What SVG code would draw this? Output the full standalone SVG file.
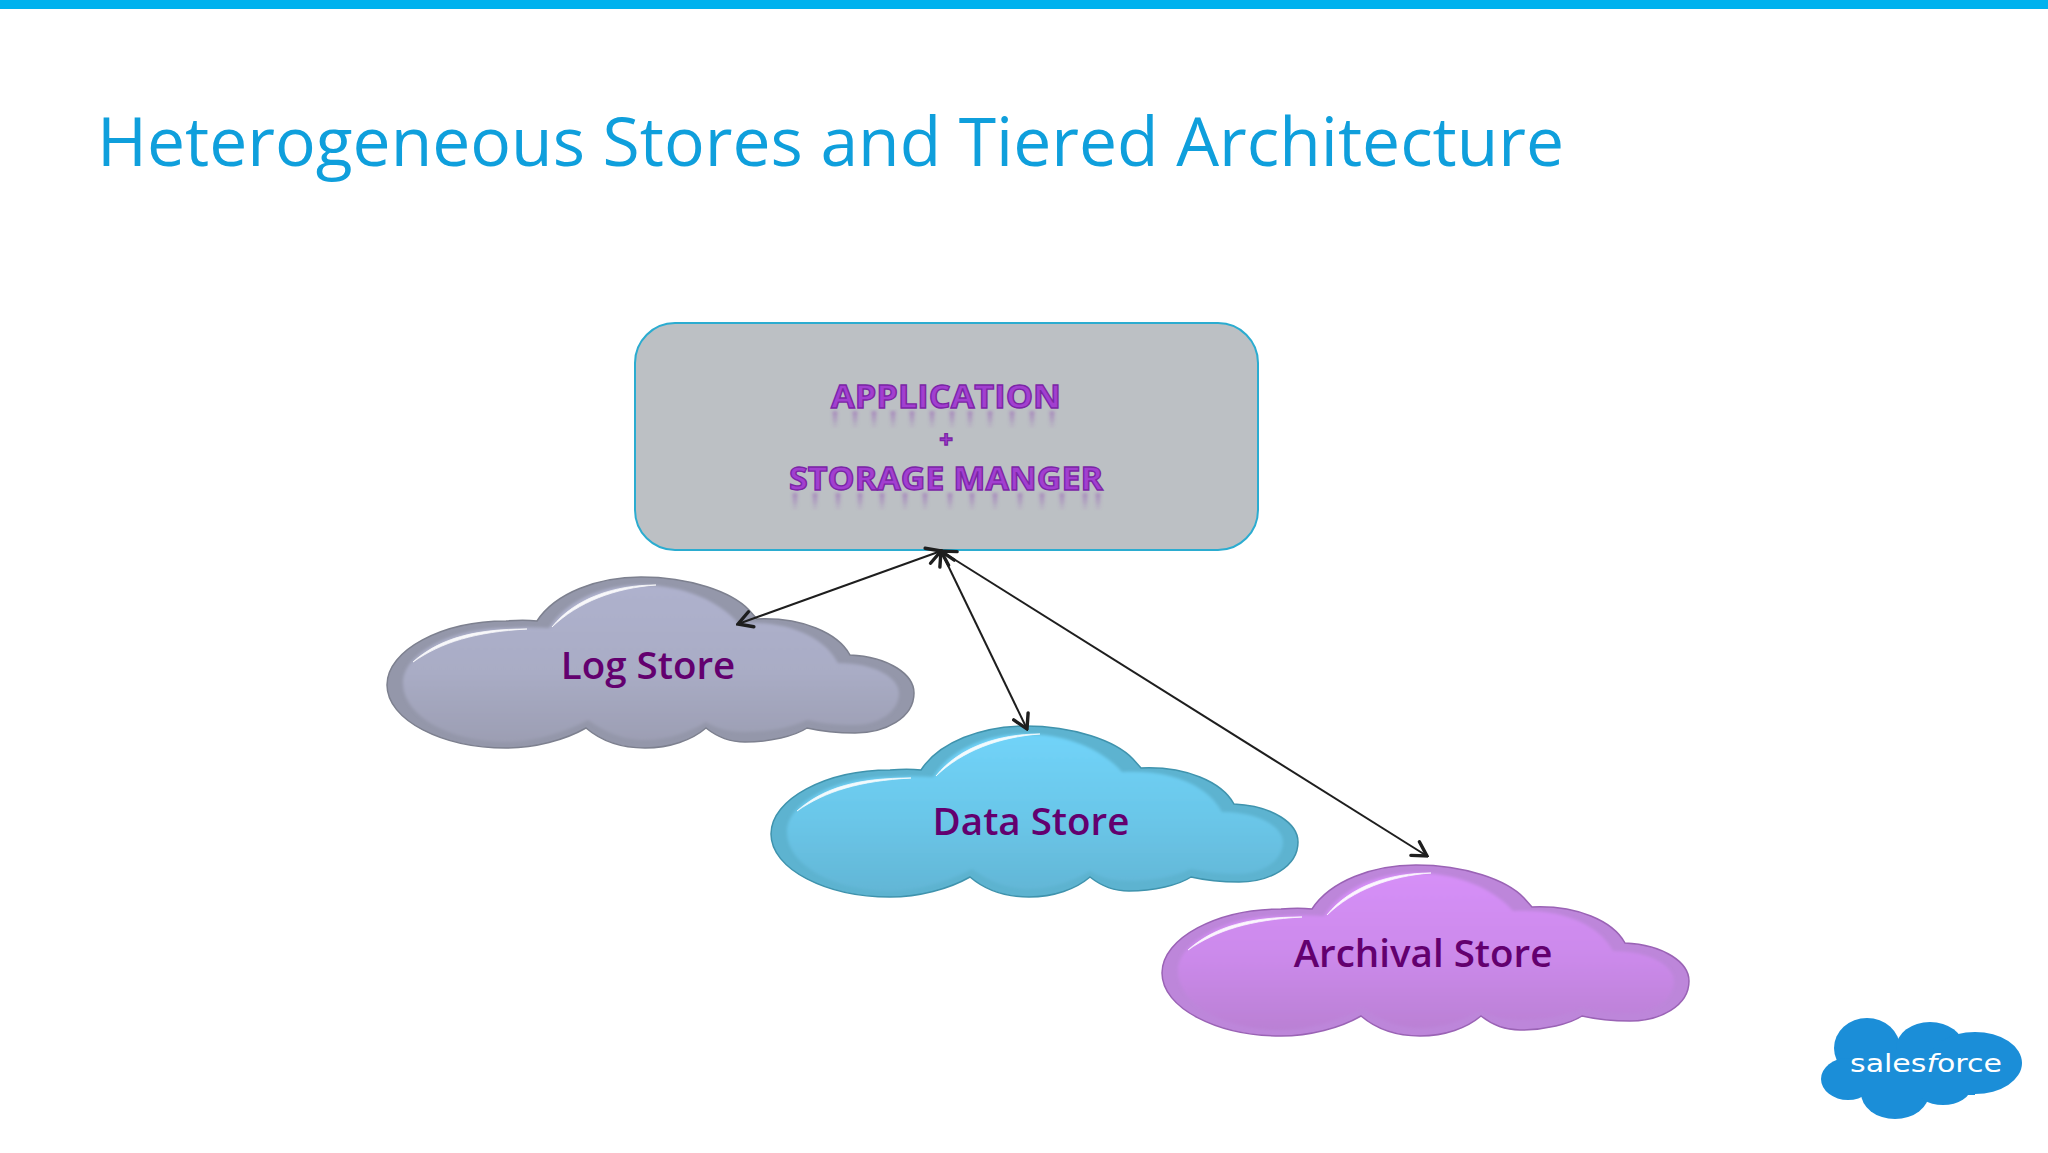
<svg xmlns="http://www.w3.org/2000/svg" width="2048" height="1153" viewBox="0 0 2048 1153">
<style>
.title{font-family:"Open Sans","Liberation Sans",sans-serif;font-size:67.8px;fill:#0f9fdc}
.app{font-family:"Open Sans","Liberation Sans",sans-serif;font-weight:700;font-size:32px;fill:#a23fd0;stroke:#7b25a6;stroke-width:1.3px;text-anchor:middle}
.plus{font-size:24px}
.refl{fill:none;stroke:url(#fade);stroke-width:5;filter:url(#soft)}
.lbl{font-family:"Open Sans","Liberation Sans",sans-serif;font-weight:600;font-size:38.5px;fill:#63006f;text-anchor:middle}
.hl{fill:#fff;opacity:.92}
.conn{fill:none;stroke:#1e1e1e;stroke-width:2;marker-start:url(#ah);marker-end:url(#ah)}
</style>
<defs>
<marker id="ah" viewBox="-16 -10 18 20" refX="0" refY="0" markerWidth="18" markerHeight="20" markerUnits="userSpaceOnUse" orient="auto-start-reverse">
<path d="M-14,-8 L0,0 L-14,8" fill="none" stroke="#1e1e1e" stroke-width="3.4" stroke-linecap="round"/>
</marker>
<linearGradient id="fade" gradientUnits="userSpaceOnUse" x1="0" y1="0" x2="0" y2="18"><stop offset="0" stop-color="#8a3fb0" stop-opacity=".42"/><stop offset="1" stop-color="#8a3fb0" stop-opacity="0"/></linearGradient>
<linearGradient id="gLog" x1="0" y1="0" x2="0" y2="1"><stop offset="0" stop-color="#aeb1cd"/><stop offset=".55" stop-color="#a9acc5"/><stop offset="1" stop-color="#9c9eb3"/></linearGradient>
<linearGradient id="gData" x1="0" y1="0" x2="0" y2="1"><stop offset="0" stop-color="#70d3f9"/><stop offset=".55" stop-color="#6ac6e8"/><stop offset="1" stop-color="#62b6d6"/></linearGradient>
<linearGradient id="gArc" x1="0" y1="0" x2="0" y2="1"><stop offset="0" stop-color="#d68ff8"/><stop offset=".55" stop-color="#cb89ea"/><stop offset="1" stop-color="#ba80d4"/></linearGradient>
<filter id="soft" x="-10%" y="-10%" width="120%" height="120%"><feGaussianBlur stdDeviation="1.8"/></filter>
<path id="outer" d="M17,125 C17,90 72,61 136,61 C148,60 158,60 167,61 C185,33 228,17 271,17 C320,17 362,32 379,50 L387,59 C432,57 468,73 480,95 C520,97 544,115 544,133 C544,158 515,173 485,173 C468,173 450,171 437,168 C425,176 400,182 375,182 C358,182 346,176 336,168 C322,180 300,188 275,188 C250,188 230,180 216,168 C195,180 165,188 136,188 C72,188 17,160 17,125 Z"/>
<path id="inner" d="M33,123 C33,95 78,68 136,68 C150,67 165,67 179,68 C195,42 230,25 271,25 C315,25 350,42 368,63 C420,60 455,78 468,103 C505,103 529,118 529,133 C529,152 508,165 485,165 C465,165 450,163 437,160 C420,168 398,172 375,172 C358,172 345,168 336,162 C320,172 298,180 275,180 C250,180 232,170 218,160 C195,172 165,182 136,182 C78,182 33,155 33,123 Z"/>
<path id="hi" d="M43,102 C70,78 105,69 157,69 C105,72 72,82 43,102 Z M182,67 C205,38 245,25 286,25 C245,28 208,42 182,67 Z" stroke="#fff" stroke-width=".8"/>
</defs>
<rect width="2048" height="1153" fill="#fff"/>
<rect id="topbar" width="2048" height="9" fill="#00b2ee"/>
<text id="title" class="title" x="97" y="166">Heterogeneous Stores and Tiered Architecture</text>

<g id="log-store" transform="translate(370,560)">
<use href="#outer" fill="#9497aa" stroke="#7d808f" stroke-width="1.5"/>
<use href="#inner" fill="url(#gLog)" filter="url(#soft)"/>
<use href="#hi" class="hl"/>
<text class="lbl" x="278" y="119">Log Store</text>
</g>
<g id="data-store" transform="translate(754,709)">
<use href="#outer" fill="#5db3d0" stroke="#3f93ad" stroke-width="1.5"/>
<use href="#inner" fill="url(#gData)" filter="url(#soft)"/>
<use href="#hi" class="hl"/>
<text class="lbl" x="277" y="126">Data Store</text>
</g>
<g id="archival-store" transform="translate(1145,848)">
<use href="#outer" fill="#bd86da" stroke="#9a63b5" stroke-width="1.5"/>
<use href="#inner" fill="url(#gArc)" filter="url(#soft)"/>
<use href="#hi" class="hl"/>
<text class="lbl" x="278" y="119">Archival Store</text>
</g>

<g id="application">
<rect x="635" y="323" width="623" height="227" rx="40" fill="#bcc0c4" stroke="#2bacd0" stroke-width="2"/>
<path class="refl" transform="translate(0,411)" d="M835,0V16M855,0V16M874,0V16M893,0V16M912,0V16M932,0V16M952,0V16M970,0V16M990,0V16M1012,0V16M1032,0V16M1052,0V16"/>
<path class="refl" transform="translate(0,493)" d="M795,0V16M815,0V16M838,0V16M860,0V16M882,0V16M905,0V16M925,0V16M950,0V16M972,0V16M995,0V16M1020,0V16M1042,0V16M1062,0V16M1085,0V16M1098,0V16"/>
<text class="app" x="946" y="408" textLength="230" lengthAdjust="spacingAndGlyphs">APPLICATION</text>
<text class="app plus" x="946" y="448">+</text>
<text class="app" x="946" y="490" textLength="314" lengthAdjust="spacingAndGlyphs">STORAGE MANGER</text>
</g>

<g id="connectors">
<line class="conn" x1="941" y1="551" x2="738" y2="624"/>
<line class="conn" x1="941" y1="551" x2="1027" y2="729"/>
<line class="conn" x1="941" y1="551" x2="1427" y2="856"/>
</g>

<g id="salesforce-logo">
<g fill="#1b8ed8">
<ellipse cx="1867" cy="1048" rx="33" ry="30"/>
<ellipse cx="1930" cy="1048" rx="34" ry="26"/>
<ellipse cx="1975" cy="1063" rx="47" ry="31"/>
<ellipse cx="1848" cy="1079" rx="27" ry="21"/>
<ellipse cx="1895" cy="1093" rx="34" ry="26"/>
<ellipse cx="1943" cy="1087" rx="28" ry="18"/>
<rect x="1860" y="1050" width="115" height="45"/>
</g>
<text x="1850" y="1072" font-family="'DejaVu Sans',sans-serif" font-size="25" fill="#fff" textLength="152" lengthAdjust="spacingAndGlyphs">sales<tspan font-style="italic">f</tspan>orce</text>
</g>
</svg>
